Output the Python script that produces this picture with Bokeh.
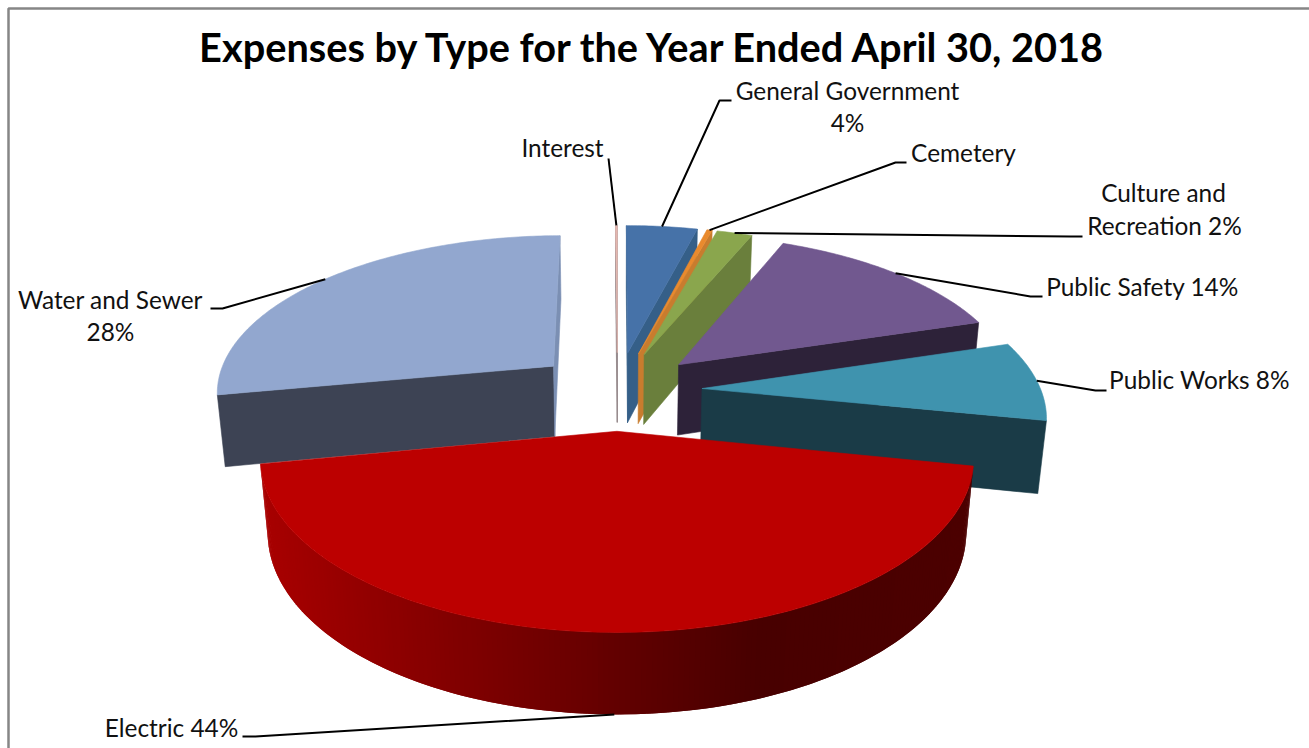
import math
from bokeh.core.properties import value
from bokeh.embed import file_html
from bokeh.models import ColumnDataSource, Range1d
from bokeh.plotting import figure
from bokeh.resources import INLINE

# Slices clockwise from twelve o'clock, percent of total expenses
categories = ["General Government", "Cemetery", "Culture and Recreation", "Public Safety",
              "Public Works", "Electric", "Water and Sewer", "Interest"]
shares = [4, 0.3, 2, 14, 8, 44, 28, 0.1]
top_colors = ["#4672a8", "#e98a2d", "#8aa64d", "#71588f", "#3f93ae", "#bc0000", "#92a7cf", "#e5b8b0"]
side_colors = ["#355f88", "#c87c2e", "#6a7f3c", "#2d2239", "#1a3b47", "#7a0000", "#3d4354", "#8d8083"]
end_face_colors = ["#355f88", "#c87c2e", "#6a7f3c", "#2d2239", "#1a3b47", "#7a0000", "#7b8fb3", "#8d8083"]
draw_order = [7, 0, 1, 2, 6, 3, 4, 5]

# Text: (string, centre x, centre y)
title_text = "Expenses by Type for the Year Ended April 30, 2018"
label_lines = [
    ("General Government", 847, 90), ("4%", 847, 122), ("Interest", 562, 147), ("Cemetery", 963, 152),
    ("Culture and", 1163, 192), ("Recreation 2%", 1164, 225), ("Public Safety 14%", 1142, 286),
    ("Public Works 8%", 1199, 379), ("Water and Sewer", 110, 299), ("28%", 110, 331),
    ("Electric 44%", 171, 727),
]
# Leader line elbows, outward from each slice in the order of categories
leader_elbows = [
    [(719, 100), (731, 100)], [(895, 162), (906, 162)], [(1070, 236), (1082, 236)],
    [(1030, 296), (1042, 296)], [(1095, 390), (1106, 390)], [(255, 736), (242, 736)],
    [(222, 308), (210, 308)], [(608, 158)],
]

# Projection of the pie plane onto the page
CX, CY = 617.0, 390.0
SCALE_X, SCALE_Y = 339.0, 157.0
PERSPECTIVE, THICK, DEPTH_W = 0.151, 73.0, 0.02
EXPLODE = 0.25

# Shading of the curved wall by page position: (x, red level)
WALL_SHADE = [(260, 0xa8), (400, 0x8c), (600, 0x66), (760, 0x48), (980, 0x4c)]


def project(u, v, low=False):
    w = 1 + PERSPECTIVE * v + (DEPTH_W if low else 0)
    return CX + SCALE_X * u / w, CY + (-SCALE_Y * v + (THICK if low else 0)) / w


def shoelace(pts):
    return sum(pts[i][0] * pts[(i + 1) % len(pts)][1] - pts[(i + 1) % len(pts)][0] * pts[i][1]
               for i in range(len(pts)))


def wall_color(x):
    for (x0, c0), (x1, c1) in zip(WALL_SHADE, WALL_SHADE[1:]):
        if x <= x1:
            t = max(0.0, (x - x0) / (x1 - x0))
            return "#%02x0000" % round(c0 + (c1 - c0) * t)
    return "#%02x0000" % WALL_SHADE[-1][1]


total = sum(shares)
edges = [0.0]
for s in shares:
    edges.append(edges[-1] + s / total * 2 * math.pi)

xs, ys, colors, line_alphas = [], [], [], []


def add(pts, color, outlined=True):
    xs.append([p[0] for p in pts])
    ys.append([p[1] for p in pts])
    colors.append(color)
    line_alphas.append(1.0 if outlined else 0.0)


anchors = {}
for i in draw_order:
    a0, a1 = edges[i], edges[i + 1]
    mid = (a0 + a1) / 2
    ox, oy = EXPLODE * math.sin(mid), EXPLODE * math.cos(mid)
    n = max(2, int((a1 - a0) / math.radians(0.75)))
    angles = [a0 + (a1 - a0) * k / n for k in range(n + 1)]
    rim = [(ox + math.sin(a), oy + math.cos(a)) for a in angles]

    # radial walls, culled when they face away
    for (u, v), sign, col in ((rim[0], -1, side_colors[i]), (rim[-1], 1, end_face_colors[i])):
        q = [project(ox, oy), project(u, v), project(u, v, True), project(ox, oy, True)]
        if shoelace(q) * sign > 0:
            add(q, col)

    # curved wall: each strip runs under the next so no seams show
    for k in range(n):
        far = min(k + 2, n)
        q = [project(*rim[k]), project(*rim[far]), project(*rim[far], True), project(*rim[k], True)]
        if shoelace(q) < 0:
            add(q, wall_color(q[0][0]) if i == 5 else side_colors[i], outlined=False)

    add([project(ox, oy)] + [project(u, v) for u, v in rim], top_colors[i])
    anchors[i] = project(ox + math.sin(mid), oy + math.cos(mid), low=(i == 5))

p = figure(width=1309, height=748, output_backend="svg", toolbar_location=None,
           x_range=Range1d(0, 1309), y_range=Range1d(748, 0), min_border=0,
           outline_line_color=None, background_fill_color="white", border_fill_color="white")
p.axis.visible = False
p.grid.visible = False

# chart frame: only the top and left edges fall on the page
p.line([8, 8, 1309], [748, 8, 8], line_color="#868686", line_width=2.5)

p.patches("xs", "ys", source=ColumnDataSource(dict(xs=xs, ys=ys, c=colors, la=line_alphas)),
          fill_color="c", line_color="c", line_alpha="la", line_width=0.6)

for i, elbows in enumerate(leader_elbows):
    pts = [anchors[i]] + elbows
    p.line([q[0] for q in pts], [q[1] for q in pts], line_color="black", line_width=2)

p.text([654], [46], text=[title_text], text_font=value("Lato"), text_font_style="bold",
       text_font_size="39.7px", text_align="center", text_baseline="middle", text_color="black")
p.text([t[1] for t in label_lines], [t[2] for t in label_lines], text=[t[0] for t in label_lines],
       text_font=value("Lato"), text_font_size="24.4px", text_align="center", text_baseline="middle",
       text_color="#111111")

open("out.html", "w").write(file_html(p, INLINE))
